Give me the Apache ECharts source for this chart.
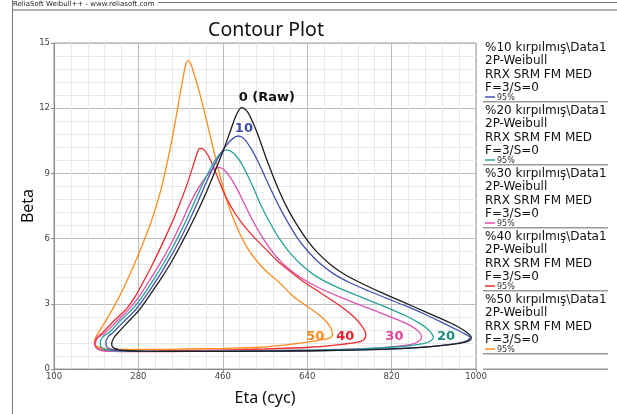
<!DOCTYPE html>
<html>
<head>
<meta charset="utf-8">
<script src="https://cdn.jsdelivr.net/npm/echarts@6/dist/echarts.min.js"></script>
<style>
html,body{margin:0;padding:0;background:#fff;}
#chart{width:617px;height:414px;}
</style>
</head>
<body>
<div id="chart"></div>
<script>
// ---- data (eta, beta) ----
const xTicks = [100, 280, 460, 640, 820, 1000];
const yTicks = [0, 3, 6, 9, 12, 15];

const contourRaw = [[223,1.2],[228,1.45],[237,1.68],[255,2.1],[282,2.72],[305,3.42],[330,4.22],[352,4.98],[372,5.78],[395,6.75],[418,7.8],[440,8.92],[461,10.05],[477,11.0],[489,11.7],[500,12.03],[512,11.85],[524,11.35],[537,10.65],[550,9.85],[564,9.05],[578,8.3],[594,7.55],[612,6.85],[635,6.08],[660,5.4],[690,4.8],[720,4.35],[760,3.9],[800,3.5],[845,3.08],[890,2.65],[937,2.2],[965,1.9],[982,1.66],[990,1.45],[987,1.32],[975,1.22],[950,1.13],[900,1.02],[840,0.94],[760,0.88],[650,0.84],[550,0.82],[450,0.81],[350,0.81],[290,0.82],[260,0.84],[240,0.88],[229,0.95],[224,1.05],[223,1.2]];
const contour10 = [[211,1.3],[216,1.5],[226,1.68],[245,2.1],[275,2.75],[298,3.42],[322,4.2],[344,4.99],[365,5.8],[387,6.75],[408,7.75],[425,8.6],[440,9.3],[455,9.9],[468,10.3],[481,10.6],[493,10.72],[505,10.6],[520,10.15],[535,9.55],[550,8.85],[565,8.15],[582,7.4],[600,6.7],[620,6.0],[640,5.45],[665,4.9],[695,4.4],[730,3.98],[770,3.6],[810,3.25],[850,2.9],[890,2.53],[925,2.17],[955,1.85],[975,1.63],[984,1.52],[987,1.45],[983,1.33],[970,1.22],[945,1.13],[900,1.03],[840,0.95],[760,0.89],[650,0.84],[550,0.82],[450,0.81],[350,0.81],[280,0.82],[245,0.84],[226,0.88],[215,0.97],[211,1.1],[211,1.3]];
const contour20 = [[199,1.3],[205,1.5],[219,1.7],[240,2.2],[269,2.8],[292,3.45],[315,4.2],[337,4.98],[358,5.8],[380,6.75],[401,7.75],[420,8.65],[437,9.35],[452,9.85],[468,10.08],[482,9.95],[497,9.55],[512,8.95],[527,8.25],[542,7.5],[560,6.75],[582,5.95],[605,5.3],[630,4.75],[660,4.25],[700,3.8],[750,3.35],[800,2.92],[850,2.45],[880,2.1],[898,1.82],[906,1.62],[909,1.47],[904,1.3],[890,1.18],[860,1.08],[820,1.0],[750,0.92],[650,0.87],[550,0.84],[450,0.82],[350,0.81],[270,0.81],[235,0.83],[213,0.88],[202,0.97],[199,1.1],[199,1.3]];
const contour30 = [[188,1.2],[193,1.42],[210,1.68],[235,2.22],[262,2.8],[285,3.45],[308,4.22],[330,5.0],[351,5.82],[372,6.75],[392,7.7],[410,8.4],[426,8.9],[440,9.2],[450,9.28],[461,9.2],[475,8.85],[490,8.3],[505,7.65],[522,6.9],[539,6.25],[557,5.65],[575,5.15],[600,4.62],[630,4.15],[670,3.68],[717,3.25],[780,2.72],[835,2.25],[862,1.97],[878,1.72],[884,1.47],[878,1.28],[859,1.12],[820,1.02],[753,0.93],[650,0.87],[550,0.84],[450,0.82],[350,0.8],[270,0.8],[225,0.81],[200,0.86],[190,0.97],[188,1.2]];
const contour40 = [[187,1.25],[192,1.45],[205,1.7],[228,2.22],[255,2.78],[275,3.4],[294,4.15],[313,4.95],[333,5.85],[352,6.75],[369,7.65],[383,8.45],[396,9.3],[404,9.85],[411,10.15],[418,10.12],[425,9.95],[433,9.65],[442,9.2],[455,8.5],[468,7.85],[485,7.2],[505,6.6],[525,6.1],[550,5.55],[575,5.0],[600,4.55],[630,4.05],[660,3.62],[690,3.2],[720,2.75],[742,2.35],[756,2.0],[763,1.75],[765,1.57],[761,1.36],[746,1.22],[700,1.1],[646,1.0],[550,0.92],[450,0.87],[350,0.84],[280,0.82],[230,0.82],[205,0.86],[192,0.96],[187,1.1],[187,1.25]];
const contour50 = [[186,1.25],[189,1.45],[194,1.65],[210,2.2],[230,2.95],[250,3.8],[270,4.75],[290,5.8],[310,6.95],[328,8.25],[345,9.85],[358,11.3],[368,12.55],[376,13.5],[381,14.0],[386,14.19],[391,14.08],[397,13.7],[408,12.9],[420,11.9],[433,10.75],[444,9.75],[455,8.8],[468,7.8],[482,6.95],[497,6.2],[513,5.55],[532,4.98],[555,4.45],[582,3.95],[610,3.35],[640,2.88],[665,2.5],[682,2.15],[691,1.85],[694,1.62],[692,1.48],[686,1.41],[650,1.27],[610,1.15],[539,1.0],[460,0.95],[380,0.92],[300,0.9],[240,0.9],[210,0.93],[193,1.03],[187,1.13],[186,1.25]];

const contourNames = ['0 (Raw)', '10', '20', '30', '40', '50'];
const contourData = [contourRaw, contour10, contour20, contour30, contour40, contour50];
const contourColors = ['#1e1e1e', '#4353b3', '#26a397', '#de4fae', '#ee2c2c', '#ff8c1f'];
const labelColors = ['#111111', '#3a4aa8', '#1b8c80', '#e6409a', '#e8202a', '#ff8a1a'];
// label anchors (eta, beta)
const labelEta = [554, 505, 936, 826, 721, 657];
const labelBeta = [12.47, 11.04, 1.47, 1.47, 1.47, 1.47];

const legendNames = ['%10 kırpılmış\\Data1', '%20 kırpılmış\\Data1', '%30 kırpılmış\\Data1', '%40 kırpılmış\\Data1', '%50 kırpılmış\\Data1'];
const legendLines = ['2P-Weibull', 'RRX SRM FM MED', 'F=3/S=0'];
const legendConf = '95%';
const legendColors = ['#4353b3', '#26a397', '#de4fae', '#ee2c2c', '#ff8c1f'];

// ---- chart ----
const chart = echarts.init(document.getElementById('chart'), null, {renderer: 'canvas'});

const series = contourData.map((d, i) => ({
  type: 'line',
  name: contourNames[i],
  data: d,
  showSymbol: false,
  smooth: 0.3,
  silent: true,
  z: 10 - i,
  lineStyle: {color: contourColors[i], width: 1.3},
  itemStyle: {color: contourColors[i]},
  markPoint: {
    symbol: 'circle',
    symbolSize: 1,
    itemStyle: {color: 'rgba(0,0,0,0)'},
    silent: true,
    data: [{coord: [labelEta[i], labelBeta[i]], value: contourNames[i]}],
    label: {
      show: true, position: 'inside', formatter: contourNames[i],
      color: labelColors[i], fontFamily: 'DejaVu Sans', fontWeight: 'bold', fontSize: 13
    }
  }
}));

const graphics = [];
// header
graphics.push({type: 'text', left: 13, top: 1, style: {text: 'ReliaSoft Weibull++ - www.reliasoft.com', font: '7px "DejaVu Sans"', fill: '#222'}});
graphics.push({type: 'line', shape: {x1: 12, y1: 10, x2: 617, y2: 10}, style: {stroke: '#9a9a9a', lineWidth: 1.5}});
graphics.push({type: 'line', shape: {x1: 158, y1: 2.5, x2: 617, y2: 2.5}, style: {stroke: '#777', lineWidth: 1}});
graphics.push({type: 'line', shape: {x1: 12.5, y1: 0, x2: 12.5, y2: 414}, style: {stroke: '#777', lineWidth: 1}});
// legend
legendNames.forEach((nm, k) => {
  const y0 = 48 + 63 * k;
  const lines = [nm].concat(legendLines);
  lines.forEach((t, j) => {
    graphics.push({type: 'text', x: 485, y: y0 + 13.3 * j, style: {text: t, font: '12px "DejaVu Sans"', fill: '#111', textVerticalAlign: 'middle'}});
  });
  graphics.push({type: 'line', shape: {x1: 485, y1: y0 + 49, x2: 495, y2: y0 + 49}, style: {stroke: legendColors[k], lineWidth: 1.5}});
  graphics.push({type: 'text', x: 497, y: y0 + 49.5, style: {text: legendConf, font: '8px "DejaVu Sans"', fill: '#333', textVerticalAlign: 'middle'}});
  graphics.push({type: 'line', shape: {x1: 483, y1: y0 + 53.7, x2: 608, y2: y0 + 53.7}, style: {stroke: '#9a9a9a', lineWidth: 1.5}});
});
graphics.push({type: 'line', shape: {x1: 483, y1: 369.3, x2: 608, y2: 369.3}, style: {stroke: '#9a9a9a', lineWidth: 1.5}});

chart.setOption({
  animation: false,
  backgroundColor: '#ffffff',
  title: {
    text: 'Contour Plot', left: 261, top: 15, textAlign: 'center',
    textStyle: {fontFamily: 'Noto Sans', fontSize: 19.5, fontWeight: 'normal', color: '#111'}
  },
  grid: {left: 54, top: 43, width: 422, height: 326, show: true, borderColor: '#9a9a9a', borderWidth: 1, backgroundColor: 'rgba(0,0,0,0)'},
  xAxis: {
    type: 'value', min: xTicks[0], max: xTicks[xTicks.length - 1], interval: xTicks[1] - xTicks[0],
    name: 'Eta (cyc)', nameLocation: 'middle', nameGap: 21, nameMoveOverlap: false,
    nameTextStyle: {fontFamily: 'Noto Sans', fontSize: 16, color: '#111'},
    axisLine: {show: true, lineStyle: {color: '#8a8a8a'}},
    axisTick: {show: true, length: 3, lineStyle: {color: '#8a8a8a'}},
    axisLabel: {margin: 3, fontFamily: 'DejaVu Sans', fontSize: 8.5, color: '#444', showMinLabel: true, showMaxLabel: true,
      formatter: v => String(v)},
    splitLine: {show: true, lineStyle: {color: '#bcbcbc', width: 1}},
    minorTick: {show: false, splitNumber: 5},
    minorSplitLine: {show: true, lineStyle: {color: '#e8e8e8', width: 1}}
  },
  yAxis: {
    type: 'value', min: yTicks[0], max: yTicks[yTicks.length - 1], interval: yTicks[1] - yTicks[0],
    name: 'Beta', nameLocation: 'middle', nameGap: 18, nameRotate: 90, nameMoveOverlap: false,
    nameTextStyle: {fontFamily: 'Noto Sans', fontSize: 16, color: '#111'},
    axisLine: {show: true, lineStyle: {color: '#8a8a8a'}},
    axisTick: {show: true, length: 3, lineStyle: {color: '#8a8a8a'}},
    axisLabel: {margin: 4, fontFamily: 'DejaVu Sans', fontSize: 8.5, color: '#444', showMinLabel: true, showMaxLabel: true,
      formatter: v => String(v)},
    splitLine: {show: true, lineStyle: {color: '#bcbcbc', width: 1}},
    minorTick: {show: false, splitNumber: 5},
    minorSplitLine: {show: true, lineStyle: {color: '#e8e8e8', width: 1}}
  },
  series: series,
  graphic: graphics
});
</script>
</body>
</html>
